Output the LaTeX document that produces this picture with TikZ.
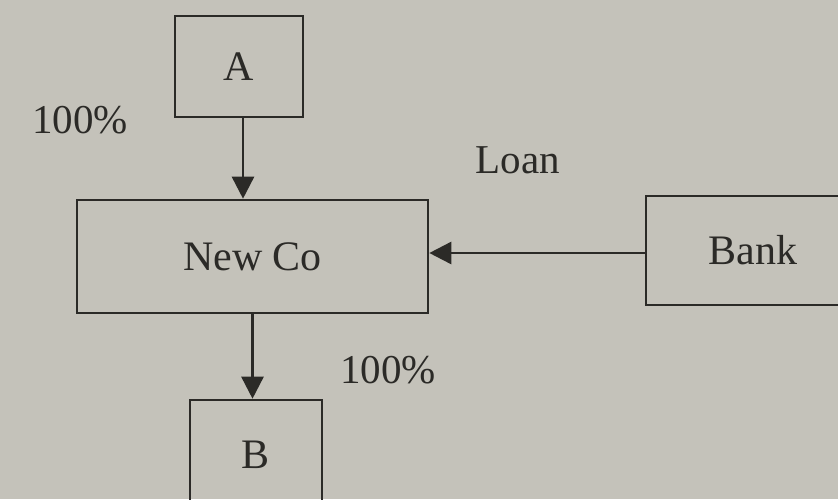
\documentclass[tikz,border=0pt]{standalone}
\usepackage{fontspec}
\setmainfont{Liberation Serif}
\usetikzlibrary{arrows.meta}
\definecolor{paper}{HTML}{C4C2BA}
\definecolor{ink}{HTML}{2B2A27}
\begin{document}
\begin{tikzpicture}[x=1pt,y=-1pt,
  box/.style={draw=ink,line width=2.6pt,minimum width=#1,inner sep=0pt,font=\fontsize{42}{46}\selectfont,text=ink},
  lbl/.style={font=\fontsize{41}{45}\selectfont,text=ink,inner sep=0pt},
  arr/.style={draw=ink,line width=2.6pt,-{Triangle[width=22pt,length=22pt]}}]
\fill[paper] (0,0) rectangle (838,499);
\useasboundingbox (0,0) rectangle (838,499);
\node[box=128pt,minimum height=101pt] (A) at (239,66.5) {A};
\node[box=351pt,minimum height=113pt] (N) at (252.5,256.5) {New Co};
\node[box=214pt,minimum height=109pt] (K) at (753,250.5) {Bank};
\node[box=132pt,minimum height=110pt] (B) at (256,455) {B};
\node[lbl] (p1) at (80,120) {100\%};
\node[lbl] (loan) at (518,160) {Loan};
\node[lbl] (p2) at (388,370) {100\%};
\draw[arr] ([xshift=4pt]A.south) -- ([xshift=4pt]A.south |- N.north);
\draw[arr] (N.south) -- (N.south |- B.north);
\draw[arr] ([yshift=-2.5pt]K.west) -- ([yshift=-2.5pt]K.west -| N.east);
\end{tikzpicture}
\end{document}
